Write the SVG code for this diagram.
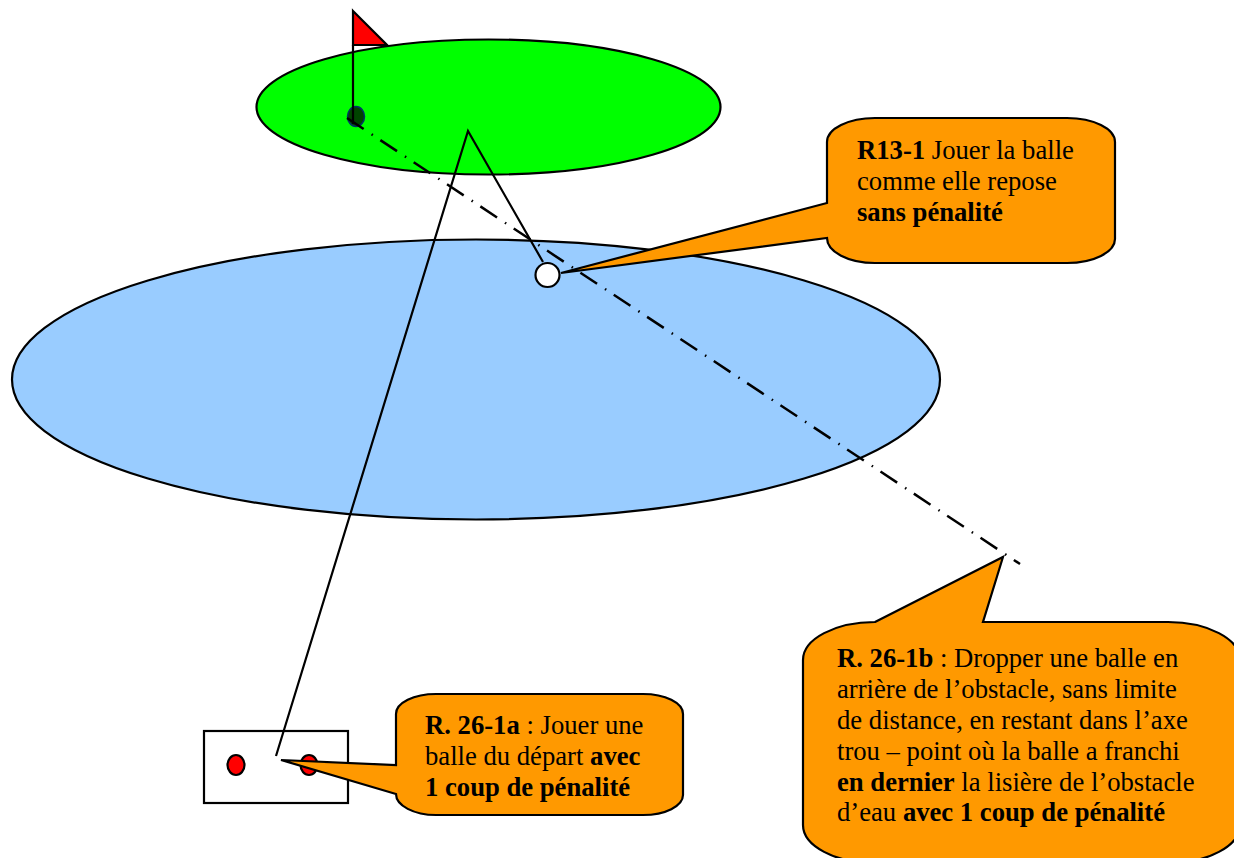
<svg xmlns="http://www.w3.org/2000/svg" width="1234" height="858" viewBox="0 0 1234 858">
<style>
.s{stroke:#000;stroke-width:2.200;stroke-linejoin:miter}
.n{fill:none}
.c{fill:#f90}
.r{fill:#f00}
text{font-family:"Liberation Serif","Times New Roman",serif;font-size:26.67px;fill:#000}
.b{font-weight:bold}
</style>
<rect width="1234" height="858" fill="#fff"/>
<g id="water"><ellipse class="s" cx="476" cy="379.500" rx="464" ry="140" fill="#9cf"/></g>
<g id="green"><ellipse class="s" cx="488.500" cy="107" rx="232" ry="67.500" fill="#0f0"/></g>
<g id="hole"><ellipse cx="356" cy="116.500" rx="8.500" ry="10" fill="#040" stroke="#036" stroke-width="1.500"/></g>
<g id="flag"><path class="s r" d="M353 11L387 45H353Z"/><path class="s n" d="M353 45V124"/></g>
<g id="tee"><rect class="s" x="204" y="731" width="144" height="72" fill="#fff"/><ellipse class="s r" cx="236" cy="765" rx="8.500" ry="10"/><ellipse class="s r" cx="309" cy="765" rx="8.500" ry="10"/></g>
<g id="ball"><circle class="s" cx="547.500" cy="275" r="12" fill="#fff"/></g>
<g id="callout-r13-1">
<path class="s c" d="M875 118H1067A48 24 0 0 1 1115 142V239A48 24 0 0 1 1067 263H875A48 25 0 0 1 827 238L561 273L827 203V142A48 24 0 0 1 875 118Z"/>
<text x="857" y="158.500"><tspan class="b">R13-1</tspan> Jouer la balle</text>
<text x="857" y="189.500">comme elle repose</text>
<text x="857" y="221" class="b">sans pénalité</text>
</g>
<g id="callout-r26-1a">
<path class="s c" d="M436 694H643A40 20 0 0 1 683 714V795A40 20 0 0 1 643 815H436A40 21 0 0 1 396 794L281 760L396 765V714A40 20 0 0 1 436 694Z"/>
<text x="425" y="734"><tspan class="b">R. 26-1a</tspan> : Jouer une</text>
<text x="425" y="765">balle du départ <tspan class="b">avec</tspan></text>
<text x="425" y="796" class="b">1 coup de pénalité</text>
</g>
<g id="callout-r26-1b">
<path class="s c" d="M875 622L1003 557L983 622H1168A72 38 0 0 1 1240 660V825A72 38 0 0 1 1168 863H875A72 38 0 0 1 803 825V660A72 38 0 0 1 875 622Z"/>
<text x="837" y="667"><tspan class="b">R. 26-1b</tspan> : Dropper une balle en</text>
<text x="837" y="698">arrière de l’obstacle, sans limite</text>
<text x="837" y="729">de distance, en restant dans l’axe</text>
<text x="837" y="759.500">trou – point où la balle a franchi</text>
<text x="837" y="790.500"><tspan class="b">en dernier</tspan> la lisière de l’obstacle</text>
<text x="837" y="821">d’eau <tspan class="b">avec 1 coup de pénalité</tspan></text>
</g>
<g id="connectors">
<path class="s n" d="M276 756L468 131L543 262"/>
<path class="n" stroke="#000" stroke-width="2.500" stroke-dasharray="20 9.500 1.500 9" d="M347 118L1020 564"/>
</g>
</svg>
